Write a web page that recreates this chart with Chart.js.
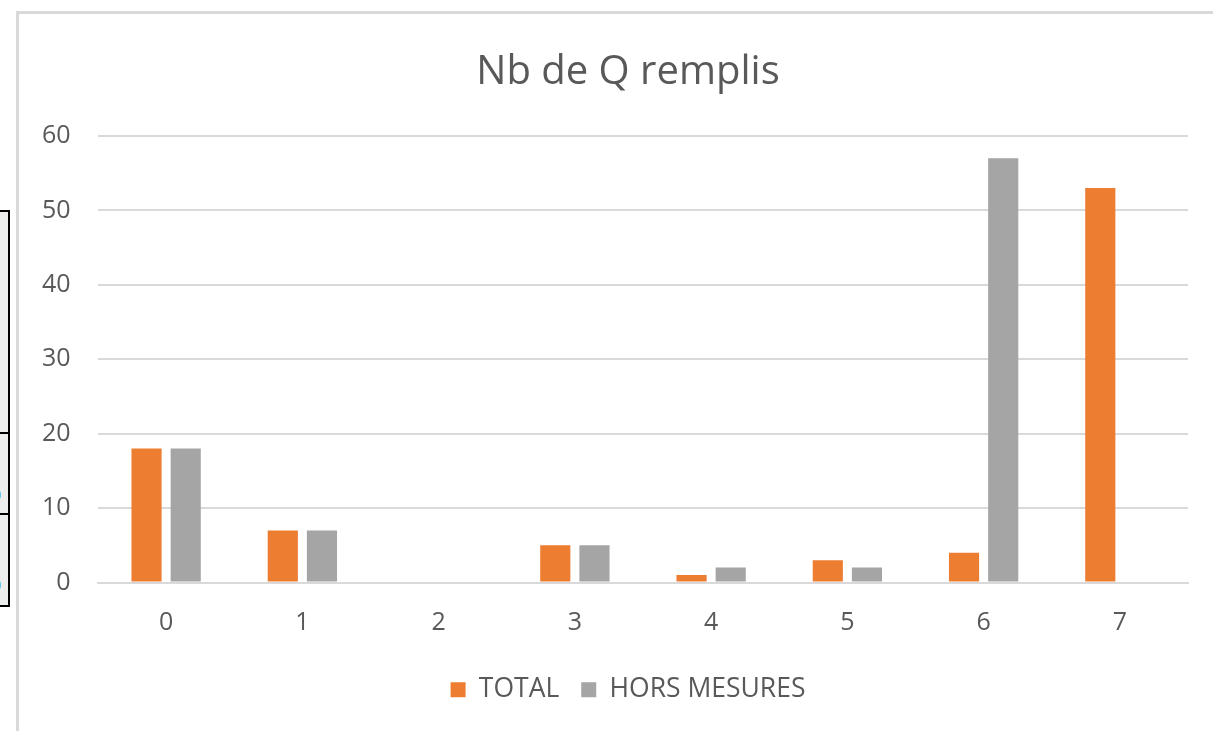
<!DOCTYPE html>
<html lang="fr">
<head>
    <meta charset="UTF-8">
    <title>Nb de Q remplis</title>
    <script src="https://cdn.jsdelivr.net/npm/chart.js"></script>
    <style>
        body {
            margin: 0;
            background: #ffffff;
            width: 1213px;
            height: 731px;
            overflow: hidden;
            position: relative;
        }

        /* cadre gris du graphique */
        #cadre {
            position: absolute;
            left: 16px;
            top: 11px;
            width: 1300px;
            height: 1000px;
            border-left: 3px solid #d9d9d9;
            border-top: 3px solid #d9d9d9;
        }

        #zone {
            position: absolute;
            left: 0;
            top: 0;
            width: 1213px;
            height: 731px;
        }

        /* morceau de tableau coupé à gauche */
        #tableau {
            position: absolute;
            left: -4px;
            top: 210px;
            width: 10px;
            height: 393px;
            border: 2px solid #000;
            background: #eceeee;
        }
        .ligne {
            position: absolute;
            left: 0;
            width: 10px;
            border-top: 2px solid #000;
        }
        .bleu {
            position: absolute;
            left: -6px;
            color: #1f6fd0;
            font: 16px "Open Sans", sans-serif;
        }
    </style>
</head>
<body>

<div id="cadre"></div>
<div id="tableau">
    <div class="ligne" style="top: 220px"></div>
    <div class="ligne" style="top: 301px"></div>
    <div class="bleu" style="top: 272px">0</div>
    <div class="bleu" style="top: 362px">0</div>
</div>
<div id="zone"><canvas id="graphe"></canvas></div>

<script>
    // Données
    const categories = ['0', '1', '2', '3', '4', '5', '6', '7'];
    const total = [18, 7, 0, 5, 1, 3, 4, 53];
    const horsMesures = [18, 7, 0, 5, 2, 2, 57, 0];

    const orange = '#ed7d31';
    const gris = '#a5a5a5';
    const texte = '#595959';
    const police = '"Open Sans", sans-serif';

    const ctx = document.getElementById('graphe').getContext('2d');
    const graphe = new Chart(ctx, {
        type: 'bar',
        data: {
            labels: categories,
            datasets: [{
                label: 'TOTAL',
                data: total,
                backgroundColor: orange,
                categoryPercentage: 0.575,
                barPercentage: 0.77
            }, {
                label: 'HORS MESURES',
                data: horsMesures,
                backgroundColor: gris,
                categoryPercentage: 0.575,
                barPercentage: 0.77
            }]
        },
        options: {
            responsive: true,
            maintainAspectRatio: false,
            animation: false,
            layout: {
                // marge gauche pour centrer titre et légende comme l'original
                padding: { left: 68, right: 25, top: 0, bottom: 18 }
            },
            plugins: {
                title: {
                    display: true,
                    text: 'Nb de Q remplis',
                    color: texte,
                    font: { family: police, size: 40, weight: 'normal' },
                    padding: { top: 49, bottom: 39 }
                },
                legend: {
                    position: 'bottom',
                    labels: {
                        color: texte,
                        font: { family: police, size: 26.5 },
                        boxWidth: 15,
                        boxHeight: 15,
                        padding: 22
                    }
                },
                tooltip: { enabled: false }
            },
            scales: {
                x: {
                    grid: { display: false, drawTicks: false },
                    border: { display: true, color: '#d9d9d9', width: 2 },
                    ticks: {
                        color: texte,
                        font: { family: police, size: 25 },
                        padding: 25
                    },
                    afterFit: (scale) => { scale.height = 72; }
                },
                y: {
                    min: 0,
                    max: 60,
                    grid: { color: '#d9d9d9', lineWidth: 2, drawTicks: false },
                    border: { display: false },
                    ticks: {
                        stepSize: 10,
                        color: texte,
                        font: { family: police, size: 25 },
                        // mirror : les étiquettes sortent de la zone de l'axe sans être coupées
                        mirror: true,
                        crossAlign: 'far',
                        padding: -56
                    },
                    afterFit: (scale) => { scale.width = 30; }
                }
            }
        }
    });
</script>

</body>
</html>
